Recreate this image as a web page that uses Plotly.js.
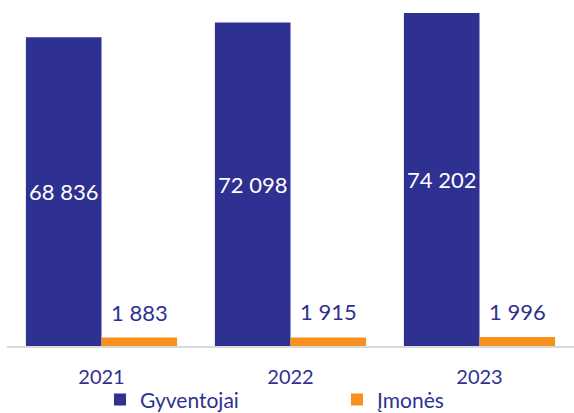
<!DOCTYPE html>
<html><head><meta charset="utf-8">
<script src="https://cdn.plot.ly/plotly-3.0.1.min.js"></script>
<style>html,body{margin:0;padding:0;background:#fff}#c{width:574px;height:413px}</style>
</head><body><div id="c"></div>
<script>
const years = ['2021', '2022', '2023'];
const gyventojai = [68836, 72098, 74202];
const imones = [1883, 1915, 1996];
const seriesNames = ['Gyventojai', 'Įmonės'];

const blue = '#2E3192', orange = '#F7901E', txt = '#2E3192';
const font = 'Lato, "Open Sans", sans-serif';
const fmt = v => String(v).replace(/\B(?=(\d{3})+(?!\d))/g, ' ');

const data = [
  {type: 'bar', x: years, y: gyventojai, name: seriesNames[0],
   marker: {color: blue}, texttemplate: '%{y:,}', textposition: 'inside',
   insidetextanchor: 'middle', textangle: 0,
   insidetextfont: {color: '#ffffff', size: 22, family: font}, hoverinfo: 'none'},
  {type: 'bar', x: years, y: imones, name: seriesNames[1],
   marker: {color: orange}, textposition: 'none', hoverinfo: 'none'}
];

const annotations = imones.map((v, i) => ({
  x: i + 0.2, y: v, xref: 'x', yref: 'y', text: fmt(v), showarrow: false,
  yanchor: 'bottom', yshift: 10, font: {color: txt, size: 22, family: font}
}));

const layout = {
  width: 574, height: 413,
  margin: {l: 7, r: 0, t: 5, b: 67},
  barmode: 'group', bargap: 0.2, bargroupgap: 0,
  separators: ', ',
  paper_bgcolor: '#fff', plot_bgcolor: '#fff',
  font: {family: font, color: txt, size: 18},
  xaxis: {type: 'category', showline: true, linecolor: '#d9d9d9', linewidth: 2,
          ticks: '', tickfont: {size: 20, color: txt, family: font}, ticklabelstandoff: 12},
  yaxis: {range: [0, 76000], visible: false, showgrid: false, zeroline: false},
  annotations: annotations,
  showlegend: true,
  legend: {orientation: 'h', xref: 'paper', x: 0.229, xanchor: 'left',
           yref: 'container', y: 0.032, yanchor: 'middle', bgcolor: 'rgba(0,0,0,0)',
           font: {size: 21, color: txt, family: font}, entrywidth: 192, itemwidth: 30,
           traceorder: 'normal'}
};
Plotly.newPlot('c', data, layout, {staticPlot: true, displayModeBar: false});
</script></body></html>
